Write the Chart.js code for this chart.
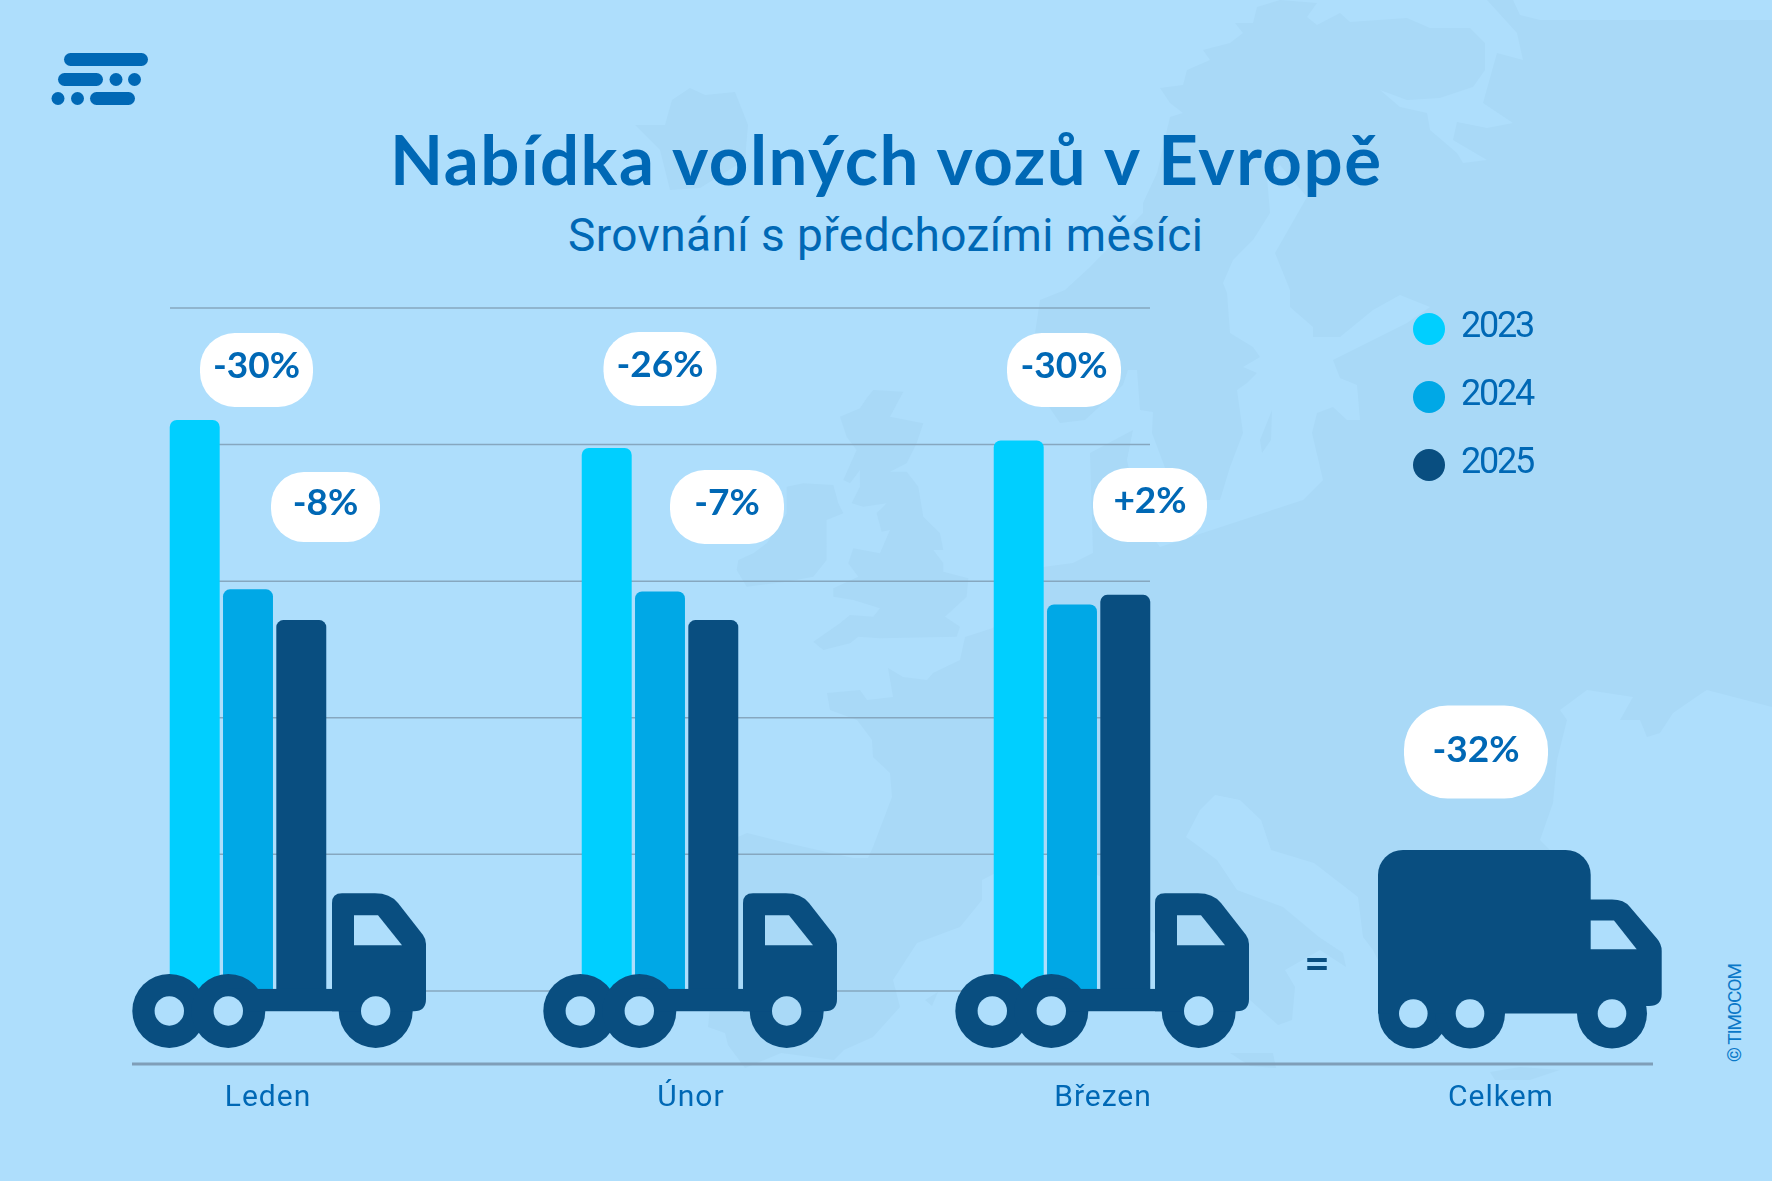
<!DOCTYPE html>
<html lang="cs">
<head>
<meta charset="utf-8">
<title>Nabídka volných vozů v Evropě</title>
<script src="https://cdn.jsdelivr.net/npm/chart.js@4"></script>
<style>
  html, body { margin: 0; padding: 0; background: #aedefc; }
  #stage { position: relative; width: 1772px; height: 1181px; overflow: hidden; }
  #backdrop, #chart { position: absolute; left: 0; top: 0; }
</style>
</head>
<body>
<div id="stage">
  <svg id="backdrop" width="1772" height="1181" viewBox="0 0 1772 1181">
    <g fill="#a9d9f7">
      <!-- mainland -->
      <path d="M1280,0 L1317,3 1307,17 1317,25 1340,13 1350,22 1407,18 1430,28 1470,28 1485,43 1485,70 1473,87 1440,98 1407,100 1380,90 1400,107 1427,113 1430,130 1457,153 1463,163 1487,160 1453,140 1457,122 1487,128 1513,123 1483,103 1497,53 1523,60 1517,33 1487,0 1513,0 1520,15 1540,20 1772,20 1772,707 1707,690 1702,693 1673,713 1660,733 1647,737 1640,720 1620,720 1633,697 1587,690 1560,710 1567,720 1557,760 1553,803 1540,840 1550,850 1510,900 1500,950 1480,990 1440,1000 1395,985 1378,960 1373,950 1363,937 1358,897 1314,863 1271,850 1261,820 1240,800 1215,795 1200,810 1186,837 1217,860 1237,890 1283,907 1319,937 1343,953 1346,967 1320,950 1285,970 1295,987 1292,1020 1278,1025 1250,1000 1150,930 1120,885 1040,850 982,880 982,900 960,927 917,943 893,980 900,1007 873,1037 844,1050 834,1060 781,1053 745,1068 728,1045 725,1033 708,1027 716,950 735,900 738,837 747,833 787,843 853,858 868,858 873,847 892,797 890,773 873,757 872,740 857,720 830,710 827,693 860,690 867,700 893,697 888,668 903,677 927,680 933,673 960,660 965,637 993,628 1043,567 1073,563 1093,553 1090,453 1133,430 1127,460 1140,520 1160,547 1303,500 1323,480 1312,433 1317,413 1333,407 1347,420 1360,420 1357,385 1340,378 1333,360 1407,323 1430,307 1400,295 1373,310 1340,337 1313,337 1313,327 1290,307 1290,290 1275,253 1307,197 1280,165 1267,177 1270,213 1253,240 1233,260 1223,283 1227,293 1230,333 1253,347 1260,357 1243,367 1257,373 1247,383 1237,390 1243,433 1230,467 1220,500 1180,500 1167,473 1152,433 1153,412 1140,410 1137,370 1128,370 1123,385 1085,420 1060,423 1041,395 1034,340 1040,300 1065,290 1090,267 1143,213 1143,203 1157,173 1170,117 1183,113 1170,103 1160,88 1183,85 1187,70 1210,60 1203,50 1230,43 1243,33 1235,23 1253,23 1257,7 Z"/>
      <!-- sicily, islands -->
      <path d="M1230,1053 L1273,1053 1276,1068 1250,1066 Z"/>
      <path d="M925,1000 L938,992 932,1006 Z"/>
      <path d="M1490,1072 L1520,1067 1560,1070 1530,1080 1495,1080 Z"/>
      <path d="M1260,440 L1272,410 1271,440 1262,453 Z"/>
      <!-- britain -->
      <g transform="translate(660,380) scale(0.3333)">
        <path d="M640,30 L730,35 690,110 790,130 770,190 740,250 690,275 740,275 775,320 790,410 840,460 850,510 820,510 850,550 850,575 925,595 920,650 855,710 900,740 890,770 660,775 595,770 570,790 490,810 460,785 540,730 570,705 640,710 660,685 580,660 520,650 520,625 595,590 565,550 580,505 660,520 690,450 665,455 650,400 680,370 610,380 575,370 600,320 600,270 570,310 550,300 590,210 560,170 540,110 600,85 620,55 Z"/>
        <path d="M380,320 L430,310 520,315 535,370 550,400 500,420 500,540 460,590 380,605 260,620 230,570 235,540 280,520 320,490 380,400 Z"/>
      </g>
      <!-- iceland -->
      <path d="M672,100 L690,88 705,95 735,92 748,125 745,160 700,188 670,190 660,150 635,125 665,125 Z"/>
    </g>
    <!-- logo -->
    <g fill="#0068b5">
      <rect x="64" y="53" width="84" height="13" rx="6.5"/>
      <rect x="58" y="73" width="45" height="13" rx="6.5"/>
      <circle cx="116" cy="79.5" r="6.5"/>
      <circle cx="134.5" cy="79.5" r="6.5"/>
      <circle cx="58" cy="98.5" r="6.5"/>
      <circle cx="77.5" cy="98.5" r="6.5"/>
      <rect x="90" y="92" width="45" height="13" rx="6.5"/>
    </g>
    <text x="390" y="185" font-family="Lato" font-weight="700" font-size="69" fill="#0068b5" textLength="991">Nabídka volných vozů v Evropě</text>
    <text x="568" y="251" font-family="Roboto" font-weight="400" font-size="46" fill="#0068b5" textLength="635">Srovnání s předchozími měsíci</text>
    <text transform="translate(1741,1062) rotate(-90)" font-family="Roboto" font-weight="400" font-size="19" fill="#0a78c8" textLength="99">© TIMOCOM</text>
  </svg>
  <canvas id="chart" width="1772" height="1181"></canvas>
</div>
<script>
const categories = ['Leden', 'Únor', 'Březen', 'Celkem'];
const years = ['2023', '2024', '2025'];
const values2023 = [83.6, 79.5, 80.6, null];
const values2024 = [58.8, 58.5, 56.6, null];
const values2025 = [54.3, 54.3, 58.0, null];
const changeTo2024 = ['-30%', '-26%', '-30%'];
const changeTo2025 = ['-8%', '-7%', '+2%'];
const changeTotal = ['-32%'];
const gridValues = [0, 20, 40, 60, 80, 100];

const colors = {
    bar2023: '#00cfff',
    bar2024: '#00a8e6',
    bar2025: '#094e80',
    text: '#0068b5',
    grid: '#86a7bf',
    axis: '#7f9eb8'
};

// pill boxes: [dx from category centre, centre y, width, height, text lift]
const pillBoxes2024 = [[8.5, 370, 113, 74, 4], [0, 369, 113, 74, 4], [-8, 370, 114, 74, 4]];
const pillBoxes2025 = [[77.5, 507, 109, 70, 4], [67, 507, 114, 74, 4], [78, 505, 114, 74, 4]];
const pillBoxTotal = [[-8, 752, 144, 93, 2]];
// the month labels don't sit under the category centres in the original
const labelShifts = [20, 31, 31, 17];
const truckNudges = [0, -1, -1];

function drawPill(ctx, x, box, text) {
    const [, y, w, h, lift] = box;
    ctx.fillStyle = '#ffffff';
    ctx.beginPath();
    ctx.roundRect(x - w / 2, y - h / 2, w, h, h * 0.47);
    ctx.fill();
    ctx.fillStyle = colors.text;
    ctx.font = '700 37px Lato';
    ctx.textAlign = 'center';
    ctx.textBaseline = 'middle';
    ctx.fillText(text, x, y - lift);
}

function punchHoles(ctx, draw) {
    ctx.save();
    ctx.globalCompositeOperation = 'destination-out';
    ctx.fillStyle = '#000';
    draw();
    ctx.restore();
}

function circle(ctx, x, y, r) {
    ctx.beginPath();
    ctx.arc(x, y, r, 0, Math.PI * 2);
    ctx.fill();
}

function polygon(ctx, pts) {
    ctx.beginPath();
    pts.forEach((p, i) => i ? ctx.lineTo(p[0], p[1]) : ctx.moveTo(p[0], p[1]));
    ctx.closePath();
    ctx.fill();
}

// flatbed truck under each month's bars
function drawSmallTruck(ctx, cx, y0) {
    ctx.save();
    ctx.translate(cx, y0);
    ctx.fillStyle = colors.bar2025;
    const wheels = [-78.7, -19.7, 127.7];
    wheels.forEach(x => circle(ctx, x, 20, 37));
    ctx.fillRect(-20, -2, 150, 22.3);
    ctx.beginPath();
    ctx.moveTo(84, 20.3);
    ctx.lineTo(84, -88);
    ctx.quadraticCurveTo(84, -97.7, 94, -97.7);
    ctx.lineTo(127, -97.7);
    ctx.quadraticCurveTo(142, -97.7, 150, -88);
    ctx.lineTo(175, -56);
    ctx.quadraticCurveTo(178, -52, 178, -47);
    ctx.lineTo(178, 8);
    ctx.quadraticCurveTo(178, 20.3, 166, 20.3);
    ctx.closePath();
    ctx.fill();
    punchHoles(ctx, () => {
        wheels.forEach(x => circle(ctx, x, 20, 14.7));
        polygon(ctx, [[106, -75.7], [130, -75.7], [154, -45.7], [106, -45.7]]);
    });
    ctx.restore();
}

// full truck for the total
function drawBigTruck(ctx, cx, y0) {
    ctx.save();
    ctx.translate(cx, y0);
    ctx.fillStyle = colors.bar2025;
    const wheels = [-70.7, -14, 128];
    wheels.forEach(x => circle(ctx, x, 22.6, 35));
    ctx.beginPath();
    ctx.roundRect(-106, -141, 212.7, 163.6, [25, 25, 0, 0]);
    ctx.fill();
    ctx.beginPath();
    ctx.moveTo(100, 15);
    ctx.lineTo(100, -91.4);
    ctx.lineTo(128, -91.4);
    ctx.quadraticCurveTo(140, -91.4, 146, -84);
    ctx.lineTo(172.7, -52.7);
    ctx.quadraticCurveTo(177.7, -47, 177.7, -40);
    ctx.lineTo(177.7, 3);
    ctx.quadraticCurveTo(177.7, 15, 165, 15);
    ctx.closePath();
    ctx.fill();
    punchHoles(ctx, () => {
        wheels.forEach(x => circle(ctx, x, 22.6, 14.3));
        polygon(ctx, [[106.7, -70.4], [130, -70.4], [152.7, -41.7], [106.7, -41.7]]);
    });
    ctx.restore();
}

const labelPlugin = {
    id: 'monthLabels',
    afterUpdate(chart) {
        chart.scales.x.getLabelItems().forEach((item, i) => {
            item.options.translation[0] += labelShifts[i];
        });
    },
    beforeDraw(chart) {
        chart.ctx.letterSpacing = '1px';
    },
    beforeDatasetsDraw(chart) {
        chart.ctx.letterSpacing = '0px';
    }
};

const gridPlugin = {
    id: 'shortGrid',
    beforeDatasetsDraw(chart) {
        const { ctx, scales: { x, y } } = chart;
        const left = x.getPixelForValue(0) - 78;
        const right = x.getPixelForValue(2) + 78;
        ctx.save();
        ctx.strokeStyle = colors.grid;
        ctx.lineWidth = 1.5;
        gridValues.forEach(v => {
            const py = y.getPixelForValue(v);
            ctx.beginPath();
            ctx.moveTo(left, py);
            ctx.lineTo(right, py);
            ctx.stroke();
        });
        ctx.strokeStyle = colors.axis;
        ctx.lineWidth = 3;
        ctx.beginPath();
        ctx.moveTo(132, y.bottom);
        ctx.lineTo(1653, y.bottom);
        ctx.stroke();
        ctx.restore();
    }
};

const overlayPlugin = {
    id: 'trucksAndPills',
    afterDatasetsDraw(chart) {
        const { ctx, scales: { x, y } } = chart;
        const y0 = y.getPixelForValue(0);
        ctx.save();
        truckNudges.forEach((n, i) => drawSmallTruck(ctx, x.getPixelForValue(i) + n, y0));
        drawBigTruck(ctx, x.getPixelForValue(3), y0);

        changeTo2024.forEach((t, i) => drawPill(ctx, x.getPixelForValue(i) + pillBoxes2024[i][0], pillBoxes2024[i], t));
        changeTo2025.forEach((t, i) => drawPill(ctx, x.getPixelForValue(i) + pillBoxes2025[i][0], pillBoxes2025[i], t));
        changeTotal.forEach((t, i) => drawPill(ctx, x.getPixelForValue(3) + pillBoxTotal[i][0], pillBoxTotal[i], t));

        ctx.fillStyle = colors.bar2025;
        ctx.font = '700 44px Lato';
        ctx.textAlign = 'center';
        ctx.textBaseline = 'middle';
        ctx.fillText('=', 1317, 965);

        // legend
        chart.data.datasets.forEach((ds, i) => {
            ctx.fillStyle = ds.backgroundColor;
            circle(ctx, 1429, 329 + i * 68, 16);
            ctx.fillStyle = colors.text;
            ctx.font = '400 36px Roboto';
            ctx.letterSpacing = '-2.2px';
            ctx.textAlign = 'left';
            ctx.textBaseline = 'middle';
            ctx.fillText(ds.label, 1461, 328 + i * 68);
            ctx.letterSpacing = '0px';
        });
        ctx.restore();
    }
};

new Chart(document.getElementById('chart').getContext('2d'), {
    type: 'bar',
    data: {
        labels: categories,
        datasets: [
            { label: years[0], data: values2023, backgroundColor: colors.bar2023 },
            { label: years[1], data: values2024, backgroundColor: colors.bar2024 },
            { label: years[2], data: values2025, backgroundColor: colors.bar2025 }
        ]
    },
    options: {
        responsive: false,
        devicePixelRatio: 1,
        animation: false,
        categoryPercentage: 0.388,
        barPercentage: 0.9375,
        borderRadius: { topLeft: 7, topRight: 7, bottomLeft: 0, bottomRight: 0 },
        borderSkipped: false,
        layout: { padding: { left: 42, right: 82, top: 308, bottom: 67 } },
        plugins: { legend: { display: false }, title: { display: false }, tooltip: { enabled: false } },
        scales: {
            x: {
                grid: { display: false },
                border: { display: false },
                ticks: {
                    color: colors.text,
                    font: { family: 'Roboto', size: 30 },
                    padding: 8,
                    maxRotation: 0,
                    autoSkip: false
                },
                afterFit(scale) { scale.height = 50; }
            },
            y: {
                display: false,
                min: -10.7,
                max: 100
            }
        }
    },
    plugins: [labelPlugin, gridPlugin, overlayPlugin]
});
</script>
</body>
</html>
